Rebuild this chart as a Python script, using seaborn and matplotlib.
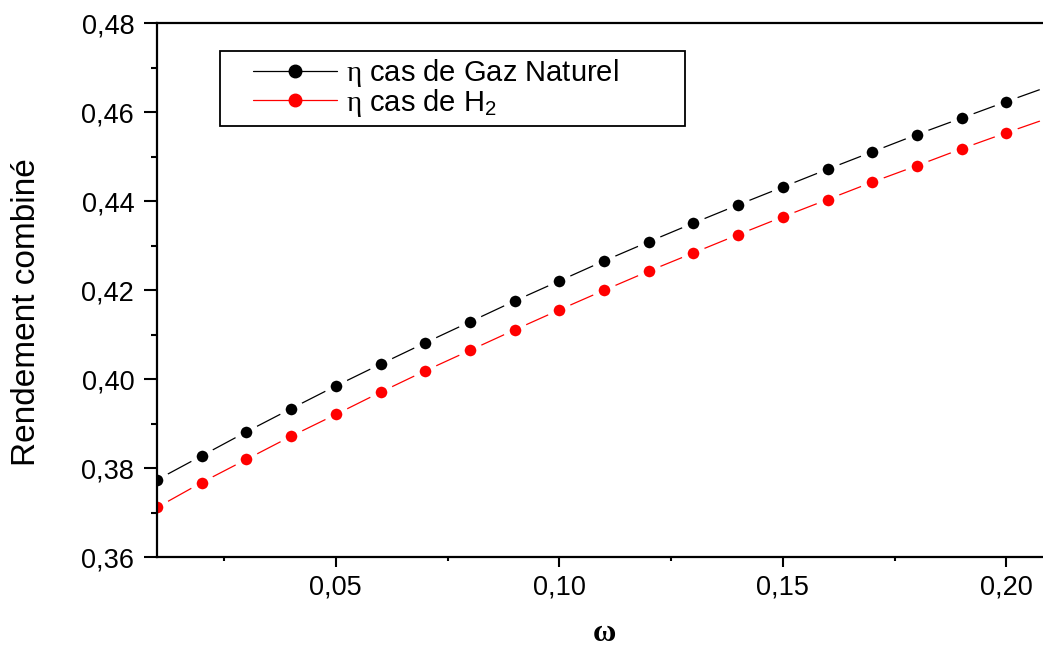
import matplotlib
matplotlib.use("Agg")
import matplotlib.pyplot as plt
from matplotlib import font_manager
from matplotlib.lines import Line2D
from matplotlib.patches import Rectangle
from matplotlib.ticker import FuncFormatter, MultipleLocator
import numpy as np
import pandas as pd
import seaborn as sns

# Rendement du cycle combiné en fonction de omega
omega = [0.01, 0.02, 0.03, 0.04, 0.05, 0.06, 0.07, 0.08, 0.09, 0.10, 0.11,
         0.12, 0.13, 0.14, 0.15, 0.16, 0.17, 0.18, 0.19, 0.20, 0.21]
eta_gaz_naturel = [0.3774, 0.3828, 0.3882, 0.3934, 0.3985, 0.4034, 0.4082,
                   0.4129, 0.4176, 0.4221, 0.4266, 0.4309, 0.4351, 0.4392,
                   0.4432, 0.4472, 0.4511, 0.4550, 0.4587, 0.4624, 0.4660]
eta_h2 = [0.3712, 0.3768, 0.3820, 0.3872, 0.3921, 0.3971, 0.4019,
          0.4065, 0.4111, 0.4156, 0.4200, 0.4243, 0.4284, 0.4325,
          0.4365, 0.4404, 0.4443, 0.4480, 0.4518, 0.4554, 0.4589]
series_labels = [r"$\eta$ cas de Gaz Naturel", r"$\eta$ cas de H$_2$"]
series_colors = ["#000000", "#ff0000"]
x_ticks = [0.05, 0.10, 0.15, 0.20]
y_ticks = [0.36, 0.38, 0.40, 0.42, 0.44, 0.46, 0.48]

sns.set_style("ticks")
installed = {f.name for f in font_manager.fontManager.ttflist}
sans = "Liberation Sans" if "Liberation Sans" in installed else "DejaVu Sans"
serif = "Liberation Serif" if "Liberation Serif" in installed else "DejaVu Serif"
plt.rcParams["font.family"] = [sans, "DejaVu Sans"]
plt.rcParams["mathtext.fontset"] = "custom"
plt.rcParams["mathtext.rm"] = sans
plt.rcParams["mathtext.it"] = serif
plt.rcParams["mathtext.bf"] = serif + ":bold"
plt.rcParams["text.color"] = "black"
plt.rcParams["axes.labelcolor"] = "black"
plt.rcParams["xtick.color"] = "black"
plt.rcParams["ytick.color"] = "black"

df = pd.DataFrame({
    "omega": omega * 2,
    "eta": eta_gaz_naturel + eta_h2,
    "cas": [series_labels[0]] * len(omega) + [series_labels[1]] * len(omega),
})

W, H = 1043, 650
fig = plt.figure(figsize=(W / 100, H / 100), dpi=100)
fig.patch.set_facecolor("white")

# axes frame: left spine at 157 px, bottom at 557 px; right end runs past the canvas
x0_px, x1_px, ytop_px, ybot_px = 157, 1051, 23.3, 557.3
ax = fig.add_axes([x0_px / W, (H - ybot_px) / H,
                   (x1_px - x0_px) / W, (ybot_px - ytop_px) / H])

sns.lineplot(data=df, x="omega", y="eta", hue="cas", hue_order=series_labels,
             palette=series_colors, marker="o", markersize=13,
             markeredgecolor="white", markeredgewidth=4.6, linewidth=0.9,
             legend=False, ax=ax, zorder=2)

ax.set_xlim(0.01, 0.21)
ax.set_ylim(0.36, 0.48)

comma = FuncFormatter(lambda v, p: f"{v:.2f}".replace(".", ","))
ax.set_xticks(x_ticks)
ax.set_yticks(y_ticks)
ax.xaxis.set_major_formatter(comma)
ax.yaxis.set_major_formatter(comma)
ax.xaxis.set_minor_locator(MultipleLocator(0.025))
ax.yaxis.set_minor_locator(MultipleLocator(0.01))

ax.tick_params(axis="both", which="both", direction="out", width=1.5,
               colors="black", labelcolor="black", labelsize=19.5)
ax.tick_params(axis="x", which="major", length=7.2, pad=5)
ax.tick_params(axis="x", which="minor", length=3.2)
ax.tick_params(axis="y", which="major", length=9.4, pad=7)
ax.tick_params(axis="y", which="minor", length=4.1)

for side in ["left", "bottom", "top"]:
    ax.spines[side].set_visible(True)
    ax.spines[side].set_color("black")
    ax.spines[side].set_linewidth(1.6)
ax.spines["right"].set_visible(False)

ax.set_xlabel(r"$\mathbf{\omega}$", fontsize=23, color="black")
ax.xaxis.label.set_va("center")
ax.xaxis.set_label_coords(0.5, (ybot_px - 633) / (ybot_px - ytop_px))

ax.set_ylabel("Rendement combiné", fontsize=24, color="black")
ax.yaxis.label.set_va("center")
ax.yaxis.set_label_coords((27 - x0_px) / (x1_px - x0_px),
                          (ybot_px - 312) / (ybot_px - ytop_px))

# legend: framed box with line + marker handles
box = Rectangle((219.5 / W, (H - 126) / H), (685 - 219.5) / W, (126 - 51.5) / H,
                transform=fig.transFigure, facecolor="white", edgecolor="black",
                linewidth=1.3, zorder=4.5, clip_on=False)
ax.add_patch(box)
handles = [Line2D([], [], color=c, linewidth=0.9, marker="o", markersize=9,
                  markerfacecolor=c, markeredgecolor=c)
           for c in series_colors]
fs = 21
fs_px = fs * 100 / 72
leg = ax.legend(handles, series_labels, loc="center left",
                bbox_to_anchor=(253 / W, (H - 88) / H),
                bbox_transform=fig.transFigure, frameon=False, fontsize=fs,
                borderpad=0, borderaxespad=0, handlelength=84 / fs_px,
                handletextpad=9 / fs_px, labelspacing=-0.09)
for t in leg.get_texts():
    t.set_color("black")
leg.set_zorder(5)

fig.savefig("out.png", dpi=100)
